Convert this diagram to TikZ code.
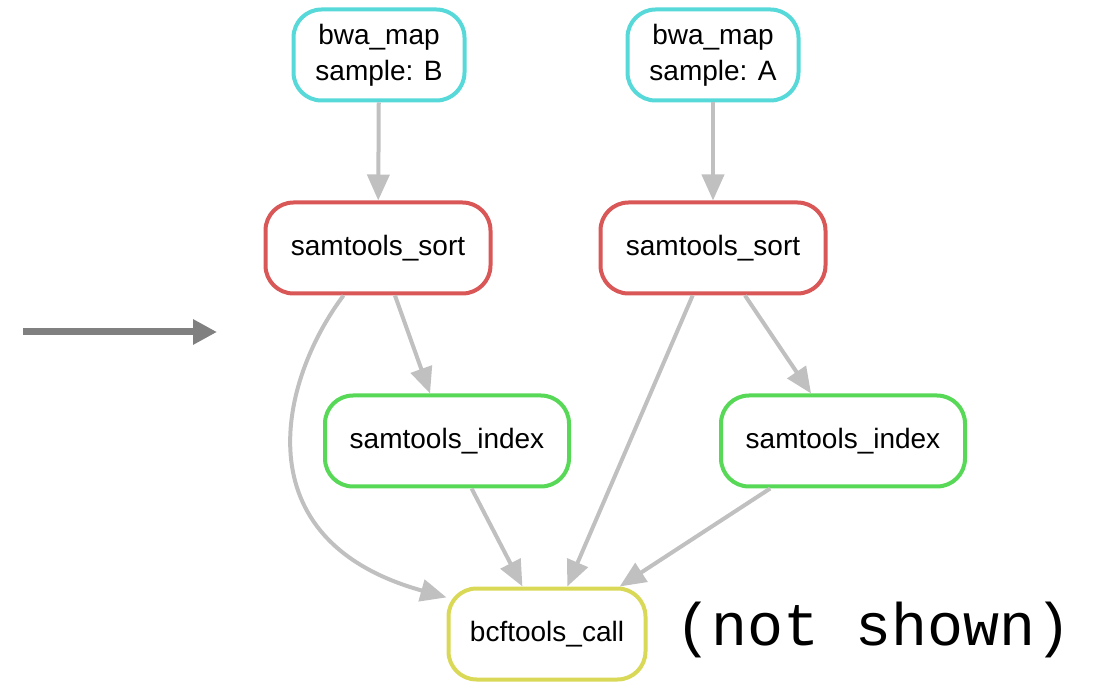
\documentclass[tikz,border=0pt]{standalone}
\usepackage{fontspec}
\setmainfont{Liberation Sans}
\setmonofont{Liberation Mono}
\usepackage{tikz}
\usetikzlibrary{arrows.meta}

\definecolor{mapcol}{RGB}{87,217,217}
\definecolor{sortcol}{RGB}{217,87,87}
\definecolor{idxcol}{RGB}{87,217,87}
\definecolor{callcol}{RGB}{217,217,87}
\definecolor{edgecol}{RGB}{192,192,192}
\definecolor{pointcol}{RGB}{128,128,128}

\begin{document}
\begin{tikzpicture}[x=1pt,y=-1pt,
    rule/.style={draw, line width=4pt, rounded corners=28pt, fill=white,
        minimum height=91pt, inner sep=0pt, align=center,
        font=\fontsize{28}{36}\selectfont},
    edge/.style={draw=edgecol, line width=4pt,
        -{Triangle[length=26pt,width=22pt]}}]
    \useasboundingbox (0,0) rectangle (1104,684);

    \node[rule, draw=mapcol, minimum width=171pt] (mapB) at (379,55) {bwa\_map\\sample: B};
    \node[rule, draw=mapcol, minimum width=171pt] (mapA) at (713,55) {bwa\_map\\sample: A};
    \node[rule, draw=sortcol, minimum width=225pt] (sortB) at (378,248) {samtools\_sort};
    \node[rule, draw=sortcol, minimum width=225pt] (sortA) at (713,248) {samtools\_sort};
    \node[rule, draw=idxcol, minimum width=244pt] (idxB) at (447,441) {samtools\_index};
    \node[rule, draw=idxcol, minimum width=244pt] (idxA) at (843,441) {samtools\_index};
    \node[rule, draw=callcol, minimum width=197pt] (call) at (547,634) {bcftools\_call};
    \node[font=\ttfamily\fontsize{60}{70}\selectfont, anchor=west] (note) at (672,630) {(not shown)};

    \draw[edge] (mapB) -- (sortB);
    \draw[edge] (mapA) -- (sortA);
    \draw[edge] (sortB) -- (idxB);
    \draw[edge] (sortB.234) .. controls (280,380) and (240,540) .. (call.160);
    \draw[edge] (idxB) -- (call);
    \draw[edge] (sortA) -- (call);
    \draw[edge] (sortA) -- (idxA);
    \draw[edge] (idxA) -- (call);

    % pointer on the left
    \coordinate (pstart) at (23,332);
    \coordinate (pend) at (217,332);
    \draw[draw=pointcol, line width=7pt, -{Triangle[length=24pt,width=24pt]}] (pstart) -- (pend);
\end{tikzpicture}
\end{document}
